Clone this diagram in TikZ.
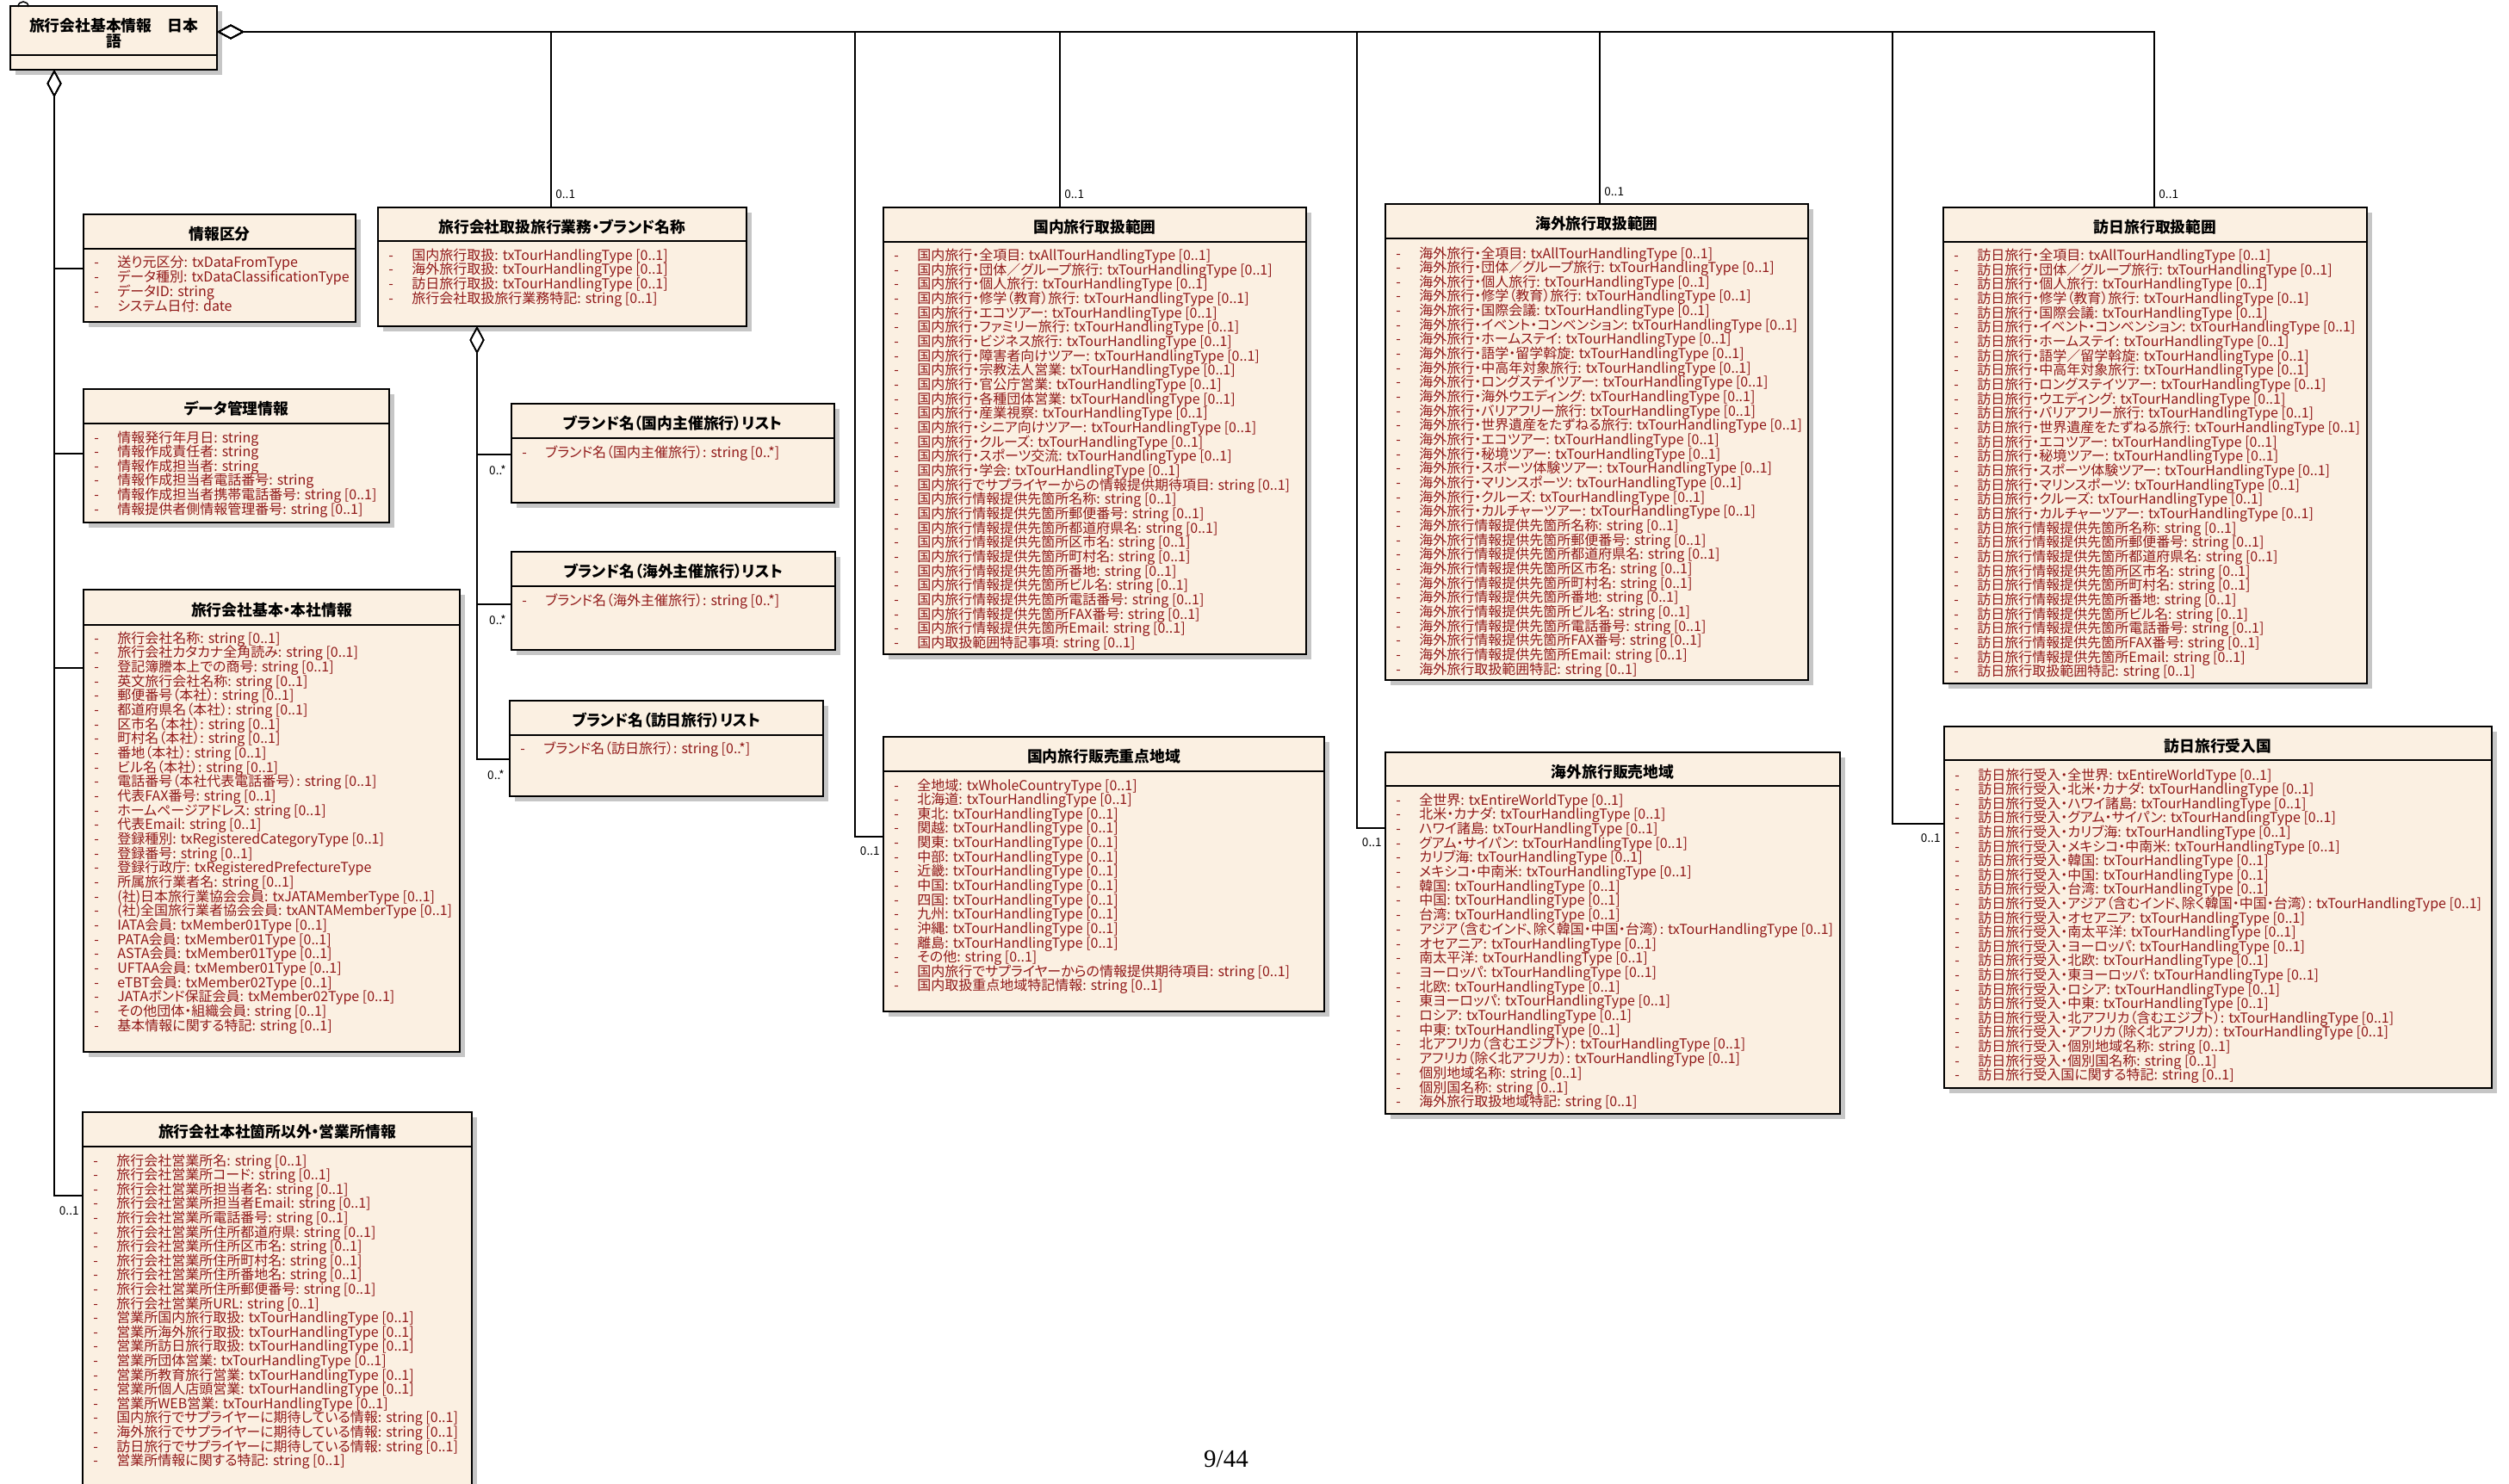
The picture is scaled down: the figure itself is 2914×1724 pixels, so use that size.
\documentclass[tikz,border=0pt]{standalone}
\usepackage{fontspec}
\setmainfont{Noto Sans CJK JP}[RawFeature=+palt]
\newfontfamily\pagefont{Liberation Serif}
\usetikzlibrary{arrows.meta,calc,shadows}

\definecolor{umlfill}{RGB}{251,240,226}
\definecolor{umlred}{RGB}{145,25,25}
\definecolor{umlshade}{RGB}{198,198,198}

\tikzset{
  classbox/.style={draw, line width=1pt, fill=umlfill, anchor=north west, inner sep=0pt, outer sep=0pt,
    drop shadow={shadow xshift=2.75pt, shadow yshift=-2.75pt, fill=umlshade, opacity=1}},
  classline/.style={line width=0.8pt},
  classtitle/.style={font=\fontsize{8.9}{8.2}\selectfont\bfseries, inner sep=0pt, align=center},
  attr/.style={anchor=base west, inner sep=0pt, text=umlred, font=\fontsize{8}{9}\selectfont},
  mult/.style={inner sep=0pt, font=\fontsize{6.8}{8}\selectfont},
  agg/.style={line width=0.75pt, {Diamond[open,length=16pt,width=8.5pt]}-},
}

\newcommand{\tTH}{txTourHandlingType [0..1]}
\newcommand{\tSt}{string [0..1]}

% class box: name, x1, y1, x2, y2, divider y, title
\newcommand{\umlclass}[7]{%
  \node[classbox, minimum width={(#4-#2)*0.5pt}, minimum height={(#5-#3)*0.5pt}] (#1) at (#2,#3) {};
  \draw[classline] (#2,#6) -- (#4,#6);
  \node[classtitle] (#1-t) at ({(#2+#4)/2},{(#3+#6)/2+3}) {#7};
}
% attribute rows: name, x, first baseline, pitch, list name/type
\newcommand{\umlrows}[5]{%
  \foreach \nm/\ty [count=\i from 0] in {#5}
    \node[attr] (#1-r\i) at (#2,{#3+\i*#4}) {\makebox[13.5pt][l]{-}\nm:\hspace{2.5pt}\ty};
}

\begin{document}
\begin{tikzpicture}[x=0.5pt, y=-0.5pt]
    \useasboundingbox[fill=white] (0,0) rectangle (2914,1724);

    % root
    \umlclass{root}{12}{7}{252}{81}{64}{旅行会社基本情報　日本\\語}
    \draw[line width=0.75pt] (21,8) .. controls (21,0) and (33,0) .. (33,8);
    \coordinate (aggR) at (252,37);
    \coordinate (aggB) at (63,81);

    % left column
    \umlclass{jk}{97}{249}{413}{374}{289}{情報区分}
    \umlrows{jk}{109}{310}{17}{送り元区分/txDataFromType, データ種別/txDataClassificationType,
      データID/string, システム日付/date}

    \umlclass{dm}{97}{452}{452}{607}{492}{データ管理情報}
    \umlrows{dm}{109}{514}{16.6}{情報発行年月日/string, 情報作成責任者/string, 情報作成担当者/string,
      情報作成担当者電話番号/string, 情報作成担当者携帯電話番号/\tSt, 情報提供者側情報管理番号/\tSt}

    \umlclass{kh}{97}{685}{534}{1222}{726}{旅行会社基本・本社情報}
    \umlrows{kh}{109}{747}{16.67}{旅行会社名称/\tSt, 旅行会社カタカナ全角読み/\tSt, 登記簿謄本上での商号/\tSt,
      英文旅行会社名称/\tSt, 郵便番号（本社）/\tSt, 都道府県名（本社）/\tSt, 区市名（本社）/\tSt,
      町村名（本社）/\tSt, 番地（本社）/\tSt, ビル名（本社）/\tSt, 電話番号（本社代表電話番号）/\tSt,
      代表FAX番号/\tSt, ホームページアドレス/\tSt, 代表Email/\tSt, 登録種別/txRegisteredCategoryType [0..1],
      登録番号/\tSt, 登録行政庁/txRegisteredPrefectureType, 所属旅行業者名/\tSt,
      (社)日本旅行業協会会員/txJATAMemberType [0..1], (社)全国旅行業者協会会員/txANTAMemberType [0..1],
      IATA会員/txMember01Type [0..1], PATA会員/txMember01Type [0..1], ASTA会員/txMember01Type [0..1],
      UFTAA会員/txMember01Type [0..1], eTBT会員/txMember02Type [0..1], JATAボンド保証会員/txMember02Type [0..1],
      その他団体・組織会員/\tSt, 基本情報に関する特記/\tSt}

    \umlclass{eg}{96}{1292}{548}{1760}{1332}{旅行会社本社箇所以外・営業所情報}
    \umlrows{eg}{108}{1354}{16.6}{旅行会社営業所名/\tSt, 旅行会社営業所コード/\tSt, 旅行会社営業所担当者名/\tSt,
      旅行会社営業所担当者Email/\tSt, 旅行会社営業所電話番号/\tSt, 旅行会社営業所住所都道府県/\tSt,
      旅行会社営業所住所区市名/\tSt, 旅行会社営業所住所町村名/\tSt, 旅行会社営業所住所番地名/\tSt,
      旅行会社営業所住所郵便番号/\tSt, 旅行会社営業所URL/\tSt, 営業所国内旅行取扱/\tTH, 営業所海外旅行取扱/\tTH,
      営業所訪日旅行取扱/\tTH, 営業所団体営業/\tTH, 営業所教育旅行営業/\tTH, 営業所個人店頭営業/\tTH,
      営業所WEB営業/\tTH, 国内旅行でサプライヤーに期待している情報/\tSt,
      海外旅行でサプライヤーに期待している情報/\tSt, 訪日旅行でサプライヤーに期待している情報/\tSt,
      営業所情報に関する特記/\tSt}

    % business / brands
    \umlclass{gyomu}{439}{241}{867}{379}{280}{旅行会社取扱旅行業務・ブランド名称}
    \umlrows{gyomu}{451}{302}{16.9}{国内旅行取扱/\tTH, 海外旅行取扱/\tTH, 訪日旅行取扱/\tTH,
      旅行会社取扱旅行業務特記/\tSt}
    \coordinate (aggG) at (554,379);

    \umlclass{br1}{594}{469}{969}{584}{509}{ブランド名（国内主催旅行）リスト}
    \umlrows{br1}{606}{531}{17}{ブランド名（国内主催旅行）/string [0..*]}
    \umlclass{br2}{594}{641}{970}{755}{681}{ブランド名（海外主催旅行）リスト}
    \umlrows{br2}{606}{703}{17}{ブランド名（海外主催旅行）/string [0..*]}
    \umlclass{br3}{592}{814}{956}{925}{854}{ブランド名（訪日旅行）リスト}
    \umlrows{br3}{604}{875}{17}{ブランド名（訪日旅行）/string [0..*]}

    % domestic
    \umlclass{kokunai}{1026}{241}{1517}{760}{281}{国内旅行取扱範囲}
    \umlrows{kokunai}{1038}{302.5}{16.67}{国内旅行・全項目/txAllTourHandlingType [0..1],
      国内旅行・団体／グループ旅行/\tTH, 国内旅行・個人旅行/\tTH, 国内旅行・修学（教育）旅行/\tTH,
      国内旅行・エコツアー/\tTH, 国内旅行・ファミリー旅行/\tTH, 国内旅行・ビジネス旅行/\tTH,
      国内旅行・障害者向けツアー/\tTH, 国内旅行・宗教法人営業/\tTH, 国内旅行・官公庁営業/\tTH,
      国内旅行・各種団体営業/\tTH, 国内旅行・産業視察/\tTH, 国内旅行・シニア向けツアー/\tTH,
      国内旅行・クルーズ/\tTH, 国内旅行・スポーツ交流/\tTH, 国内旅行・学会/\tTH,
      国内旅行でサプライヤーからの情報提供期待項目/\tSt, 国内旅行情報提供先箇所名称/\tSt,
      国内旅行情報提供先箇所郵便番号/\tSt, 国内旅行情報提供先箇所都道府県名/\tSt,
      国内旅行情報提供先箇所区市名/\tSt, 国内旅行情報提供先箇所町村名/\tSt, 国内旅行情報提供先箇所番地/\tSt,
      国内旅行情報提供先箇所ビル名/\tSt, 国内旅行情報提供先箇所電話番号/\tSt,
      国内旅行情報提供先箇所FAX番号/\tSt, 国内旅行情報提供先箇所Email/\tSt, 国内取扱範囲特記事項/\tSt}

    \umlclass{khb}{1026}{856}{1538}{1175}{896}{国内旅行販売重点地域}
    \umlrows{khb}{1038}{918}{16.64}{全地域/txWholeCountryType [0..1], 北海道/\tTH, 東北/\tTH, 関越/\tTH,
      関東/\tTH, 中部/\tTH, 近畿/\tTH, 中国/\tTH, 四国/\tTH, 九州/\tTH, 沖縄/\tTH, 離島/\tTH, その他/\tSt,
      国内旅行でサプライヤーからの情報提供期待項目/\tSt, 国内取扱重点地域特記情報/\tSt}

    % overseas
    \umlclass{kaigai}{1609}{237}{2100}{790}{277}{海外旅行取扱範囲}
    \umlrows{kaigai}{1621}{300}{16.66}{海外旅行・全項目/txAllTourHandlingType [0..1],
      海外旅行・団体／グループ旅行/\tTH, 海外旅行・個人旅行/\tTH, 海外旅行・修学（教育）旅行/\tTH,
      海外旅行・国際会議/\tTH, 海外旅行・イベント・コンベンション/\tTH, 海外旅行・ホームステイ/\tTH,
      海外旅行・語学・留学斡旋/\tTH, 海外旅行・中高年対象旅行/\tTH, 海外旅行・ロングステイツアー/\tTH,
      海外旅行・海外ウエディング/\tTH, 海外旅行・バリアフリー旅行/\tTH, 海外旅行・世界遺産をたずねる旅行/\tTH,
      海外旅行・エコツアー/\tTH, 海外旅行・秘境ツアー/\tTH, 海外旅行・スポーツ体験ツアー/\tTH,
      海外旅行・マリンスポーツ/\tTH, 海外旅行・クルーズ/\tTH, 海外旅行・カルチャーツアー/\tTH,
      海外旅行情報提供先箇所名称/\tSt, 海外旅行情報提供先箇所郵便番号/\tSt,
      海外旅行情報提供先箇所都道府県名/\tSt, 海外旅行情報提供先箇所区市名/\tSt,
      海外旅行情報提供先箇所町村名/\tSt, 海外旅行情報提供先箇所番地/\tSt, 海外旅行情報提供先箇所ビル名/\tSt,
      海外旅行情報提供先箇所電話番号/\tSt, 海外旅行情報提供先箇所FAX番号/\tSt,
      海外旅行情報提供先箇所Email/\tSt, 海外旅行取扱範囲特記/\tSt}

    \umlclass{kgb}{1609}{874}{2137}{1294}{913}{海外旅行販売地域}
    \umlrows{kgb}{1621}{935}{16.7}{全世界/txEntireWorldType [0..1], 北米・カナダ/\tTH, ハワイ諸島/\tTH,
      グアム・サイパン/\tTH, カリブ海/\tTH, メキシコ・中南米/\tTH, 韓国/\tTH, 中国/\tTH, 台湾/\tTH,
      アジア（含むインド、除く韓国・中国・台湾）/\tTH, オセアニア/\tTH, 南太平洋/\tTH, ヨーロッパ/\tTH,
      北欧/\tTH, 東ヨーロッパ/\tTH, ロシア/\tTH, 中東/\tTH, 北アフリカ（含むエジプト）/\tTH,
      アフリカ（除く北アフリカ）/\tTH, 個別地域名称/\tSt, 個別国名称/\tSt, 海外旅行取扱地域特記/\tSt}

    % inbound
    \umlclass{hounichi}{2257}{241}{2749}{794}{281}{訪日旅行取扱範囲}
    \umlrows{hounichi}{2269}{302.5}{16.67}{訪日旅行・全項目/txAllTourHandlingType [0..1],
      訪日旅行・団体／グループ旅行/\tTH, 訪日旅行・個人旅行/\tTH, 訪日旅行・修学（教育）旅行/\tTH,
      訪日旅行・国際会議/\tTH, 訪日旅行・イベント・コンベンション/\tTH, 訪日旅行・ホームステイ/\tTH,
      訪日旅行・語学／留学斡旋/\tTH, 訪日旅行・中高年対象旅行/\tTH, 訪日旅行・ロングステイツアー/\tTH,
      訪日旅行・ウエディング/\tTH, 訪日旅行・バリアフリー旅行/\tTH, 訪日旅行・世界遺産をたずねる旅行/\tTH,
      訪日旅行・エコツアー/\tTH, 訪日旅行・秘境ツアー/\tTH, 訪日旅行・スポーツ体験ツアー/\tTH,
      訪日旅行・マリンスポーツ/\tTH, 訪日旅行・クルーズ/\tTH, 訪日旅行・カルチャーツアー/\tTH,
      訪日旅行情報提供先箇所名称/\tSt, 訪日旅行情報提供先箇所郵便番号/\tSt,
      訪日旅行情報提供先箇所都道府県名/\tSt, 訪日旅行情報提供先箇所区市名/\tSt,
      訪日旅行情報提供先箇所町村名/\tSt, 訪日旅行情報提供先箇所番地/\tSt, 訪日旅行情報提供先箇所ビル名/\tSt,
      訪日旅行情報提供先箇所電話番号/\tSt, 訪日旅行情報提供先箇所FAX番号/\tSt,
      訪日旅行情報提供先箇所Email/\tSt, 訪日旅行取扱範囲特記/\tSt}

    \umlclass{hnu}{2258}{844}{2894}{1264}{883}{訪日旅行受入国}
    \umlrows{hnu}{2270}{906}{16.6}{訪日旅行受入・全世界/txEntireWorldType [0..1], 訪日旅行受入・北米・カナダ/\tTH,
      訪日旅行受入・ハワイ諸島/\tTH, 訪日旅行受入・グアム・サイパン/\tTH, 訪日旅行受入・カリブ海/\tTH,
      訪日旅行受入・メキシコ・中南米/\tTH, 訪日旅行受入・韓国/\tTH, 訪日旅行受入・中国/\tTH,
      訪日旅行受入・台湾/\tTH, 訪日旅行受入・アジア（含むインド、除く韓国・中国・台湾）/\tTH,
      訪日旅行受入・オセアニア/\tTH, 訪日旅行受入・南太平洋/\tTH, 訪日旅行受入・ヨーロッパ/\tTH,
      訪日旅行受入・北欧/\tTH, 訪日旅行受入・東ヨーロッパ/\tTH, 訪日旅行受入・ロシア/\tTH,
      訪日旅行受入・中東/\tTH, 訪日旅行受入・北アフリカ（含むエジプト）/\tTH,
      訪日旅行受入・アフリカ（除く北アフリカ）/\tTH, 訪日旅行受入・個別地域名称/\tSt,
      訪日旅行受入・個別国名称/\tSt, 訪日旅行受入国に関する特記/\tSt}

    % aggregations from the root
    \draw[agg] (aggR) -| ($(gyomu.north west)+(201,0)$);
    \draw[agg] (aggR) -| ($(khb.north west)+(-33,116)$) -- ($(khb.north west)+(0,116)$);
    \draw[agg] (aggR) -| ($(kokunai.north west)+(205,0)$);
    \draw[agg] (aggR) -| ($(kgb.north west)+(-33,88)$) -- ($(kgb.north west)+(0,88)$);
    \draw[agg] (aggR) -| ($(kaigai.north west)+(249,0)$);
    \draw[agg] (aggR) -| ($(hnu.north west)+(-60,113)$) -- ($(hnu.north west)+(0,113)$);
    \draw[agg] (aggR) -| ($(hounichi.north west)+(245,0)$);

    \draw[agg] (aggB) |- ($(jk.north west)+(0,63)$);
    \draw[agg] (aggB) |- ($(dm.north west)+(0,75)$);
    \draw[agg] (aggB) |- ($(kh.north west)+(0,91)$);
    \draw[agg] (aggB) |- ($(eg.north west)+(0,97)$);

    \draw[agg] (aggG) |- ($(br1.north west)+(0,59)$);
    \draw[agg] (aggG) |- ($(br2.north west)+(0,61)$);
    \draw[agg] (aggG) |- ($(br3.north west)+(0,68)$);

    % multiplicities
    \node[mult, anchor=west] (m1) at ($(gyomu.north west)+(206,-15)$) {0..1};
    \node[mult, anchor=west] (m2) at ($(kokunai.north west)+(210,-15)$) {0..1};
    \node[mult, anchor=west] (m3) at ($(kaigai.north west)+(254,-14)$) {0..1};
    \node[mult, anchor=west] (m4) at ($(hounichi.north west)+(250,-15)$) {0..1};
    \node[mult, anchor=east] (m5) at ($(khb.north west)+(-4,133)$) {0..1};
    \node[mult, anchor=east] (m6) at ($(kgb.north west)+(-4,105)$) {0..1};
    \node[mult, anchor=east] (m7) at ($(hnu.north west)+(-4,130)$) {0..1};
    \node[mult, anchor=east] (m8) at ($(eg.north west)+(-4,115)$) {0..1};
    \node[mult, anchor=east] (m9) at ($(br1.north west)+(-6,77)$) {0..*};
    \node[mult, anchor=east] (m10) at ($(br2.north west)+(-6,79)$) {0..*};
    \node[mult, anchor=east] (m11) at ($(br3.north west)+(-6,86)$) {0..*};

    \node[font=\pagefont\fontsize{14.5}{16}\selectfont] (page) at (1424,1695) {9/44};
\end{tikzpicture}
\end{document}
